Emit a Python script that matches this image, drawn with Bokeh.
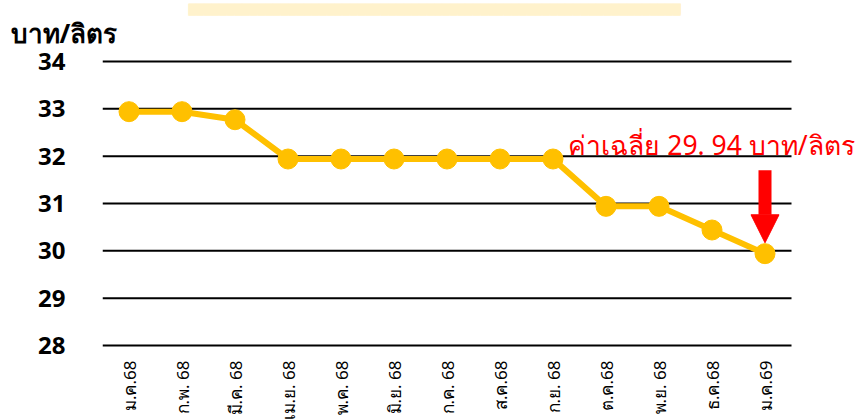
import math
from bokeh.plotting import figure
from bokeh.models import Range1d, FixedTicker, Arrow, NormalHead, ColumnDataSource, Title
from bokeh.core.properties import value
from bokeh.embed import file_html
from bokeh.resources import INLINE

months = ["ม.ค.68", "ก.พ. 68", "มี.ค. 68", "เม.ย. 68", "พ.ค. 68", "มิ.ย. 68", "ก.ค. 68",
          "ส.ค.68", "ก.ย. 68", "ต.ค.68", "พ.ย. 68", "ธ.ค.68", "ม.ค.69"]
prices = [32.94, 32.94, 32.77, 31.94, 31.94, 31.94, 31.94, 31.94, 31.94, 30.94, 30.94, 30.44, 29.94]
y_ticks = [28, 29, 30, 31, 32, 33, 34]
unit_label = "บาท/ลิตร"
avg_label = "ค่าเฉลี่ย 29. 94 บาท/ลิตร"

W = 859
LEFT = 102
TOP = 52
px_per_cat = 53.0
px_per_unit = 47.33
frame_w = W - LEFT
y_top = 34 + (61 - TOP) / px_per_unit
y_bot = 28 - (350 - 345) / px_per_unit
frame_h = 350 - TOP

idx = list(range(len(months)))
src = ColumnDataSource(dict(x=idx, y=prices))

p = figure(frame_width=frame_w, frame_height=frame_h, output_backend="svg", toolbar_location=None,
           x_range=Range1d(-0.5, -0.5 + frame_w / px_per_cat), y_range=Range1d(y_bot, y_top),
           min_border_left=LEFT, min_border_top=TOP, min_border_right=0, min_border_bottom=70)
p.outline_line_color = None
p.background_fill_color = "white"
p.border_fill_color = "white"
p.xgrid.visible = False
p.ygrid.visible = False

# pale header strip (outermost title slot)
p.title.text = "\u2588" * 64
p.title.align = "left"
p.title.offset = 188 - LEFT
p.title.text_font = "DejaVu Sans"
p.title.text_font_size = "10px"
p.title.text_font_style = "normal"
p.title.text_color = "#FFF2CC"
p.title.background_fill_color = "#FFF2CC"
p.title.standoff = 0

# unit label, shifted left over the axis area
p.add_layout(Title(text=unit_label, align="left", offset=10 - LEFT, vertical_align="top",
                   text_font="Noto Sans", text_font_size="26px", text_font_style="bold",
                   text_color="black", standoff=0), "above")

# horizontal gridlines spanning only the category area
p.segment(x0=[-0.5] * len(y_ticks), x1=[len(months) - 0.5] * len(y_ticks),
          y0=y_ticks, y1=y_ticks, line_color="black", line_width=2)

p.yaxis.ticker = FixedTicker(ticks=y_ticks)
p.yaxis.axis_line_color = None
p.yaxis.major_tick_line_color = None
p.yaxis.minor_tick_line_color = None
p.yaxis.major_label_text_font = "Noto Sans"
p.yaxis.major_label_text_font_style = "bold"
p.yaxis.major_label_text_font_size = "24px"
p.yaxis.major_label_text_color = "black"
p.yaxis.major_label_standoff = 31

p.xaxis.ticker = FixedTicker(ticks=idx)
p.xaxis.major_label_overrides = {i: m for i, m in enumerate(months)}
p.xaxis.major_label_orientation = math.pi / 2
p.xaxis.axis_line_color = None
p.xaxis.major_tick_line_color = None
p.xaxis.minor_tick_line_color = None
p.xaxis.major_label_text_font = "Noto Sans"
p.xaxis.major_label_text_font_size = "17px"
p.xaxis.major_label_text_color = "black"
p.xaxis.major_label_standoff = 4

p.line("x", "y", source=src, line_color="#FFC000", line_width=6)
p.scatter("x", "y", source=src, size=20, fill_color="#FFC000", line_color="#FFC000")

last = len(months) - 1
p.add_layout(Arrow(end=NormalHead(size=28, fill_color="#FF0000", line_color="#FF0000"),
                   x_start=last, y_start=31.7, x_end=last, y_end=30.17,
                   line_color="#FF0000", line_width=13))

p.text(x=[8.29], y=[32.23], text=[avg_label], text_color="#FF0000",
       text_font=value("Noto Sans"), text_font_size="26.5px", text_baseline="alphabetic")

open("out.html", "w").write(file_html(p, INLINE))
